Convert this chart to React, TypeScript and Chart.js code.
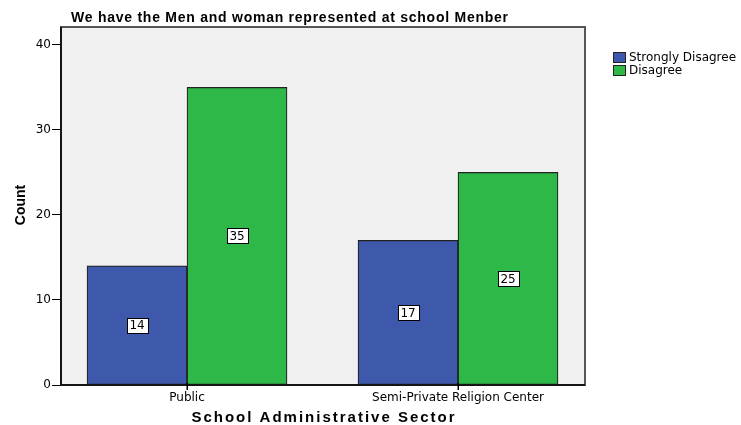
import React, { useEffect, useRef } from "react";
import { Chart, registerables } from "chart.js";

Chart.register(...registerables);

const categories = ["Public", "Semi-Private Religion Center"];
const strongly = [14, 17];
const disagree = [35, 25];
const seriesNames = ["Strongly Disagree", "Disagree"];
const yTicks = [0, 10, 20, 30, 40];
const chartTitle = "We have the Men and woman represented at school Menber";
const xTitle = "School Administrative Sector";
const yTitle = "Count";

const BLUE = "#3e58ac";
const GREEN = "#2eb848";
const SANS = "'DejaVu Sans', Arial, sans-serif";

const framePlugin = {
  id: "frame",
  beforeDatasetsDraw(chart: any) {
    const { ctx, chartArea: a } = chart;
    ctx.save();
    ctx.fillStyle = "#f0f0f0";
    ctx.fillRect(a.left, a.top, a.right - a.left, a.bottom - a.top);
    ctx.restore();
  },
  afterDatasetsDraw(chart: any) {
    const { ctx, chartArea: a } = chart;
    ctx.save();
    ctx.strokeStyle = "#555";
    ctx.lineWidth = 2;
    ctx.strokeRect(a.left, a.top, a.right - a.left, a.bottom - a.top);
    ctx.strokeStyle = "#000";
    ctx.lineWidth = 1.5;
    ctx.beginPath();
    ctx.moveTo(a.left, a.top);
    ctx.lineTo(a.left, a.bottom);
    ctx.lineTo(a.right, a.bottom);
    ctx.stroke();
    // x tick marks at category centres
    const xs = chart.scales.x;
    ctx.lineWidth = 1.5;
    categories.forEach((_, i) => {
      const px = Math.round(xs.getPixelForValue(i)) + 0.25;
      ctx.beginPath();
      ctx.moveTo(px, a.bottom - 2);
      ctx.lineTo(px, a.bottom + 5);
      ctx.stroke();
    });
    // value labels
    ctx.font = "12px " + SANS;
    ctx.textAlign = "center";
    ctx.textBaseline = "middle";
    chart.data.datasets.forEach((ds: any, di: number) => {
      const meta = chart.getDatasetMeta(di);
      meta.data.forEach((bar: any, i: number) => {
        const v = ds.data[i].y;
        const txt = String(v);
        const cx = bar.x;
        const cy = (bar.y + bar.base) / 2;
        const w = Math.round(ctx.measureText(txt).width + 6);
        const h = 15;
        const x0 = Math.round(cx - w / 2) + 0.5;
        const y0 = Math.round(cy - h / 2) + 0.5;
        ctx.fillStyle = "#fff";
        ctx.fillRect(x0, y0, w, h);
        ctx.strokeStyle = "#000";
        ctx.lineWidth = 1;
        ctx.strokeRect(x0, y0, w, h);
        ctx.fillStyle = "#000";
        ctx.fillText(txt, cx, cy + 1);
      });
    });
    ctx.restore();
  },
  afterDraw(chart: any) {
    const { ctx } = chart;
    ctx.save();
    ctx.fillStyle = "#000";
    // title
    ctx.font = "bold 14px Arial, 'Liberation Sans', sans-serif";
    ctx.textAlign = "left";
    ctx.textBaseline = "middle";
    (ctx as any).letterSpacing = "0.75px";
    ctx.fillText(chartTitle, 71, 18);
    // x title
    ctx.font = "bold 15px Arial, 'Liberation Sans', sans-serif";
    ctx.textAlign = "center";
    (ctx as any).letterSpacing = "2px";
    ctx.fillText(xTitle, 324, 418);
    (ctx as any).letterSpacing = "0px";
    // y title
    ctx.save();
    ctx.translate(21, 205);
    ctx.rotate(-Math.PI / 2);
    ctx.font = "bold 14px Arial, 'Liberation Sans', sans-serif";
    ctx.fillText(yTitle, 0, 0);
    ctx.restore();
    // legend
    const colors = [BLUE, GREEN];
    ctx.font = "12px " + SANS;
    ctx.textAlign = "left";
    seriesNames.forEach((n, i) => {
      const y = 52 + i * 13;
      ctx.fillStyle = colors[i];
      ctx.fillRect(613.5, y + 0.5, 12, 10);
      ctx.strokeStyle = "#222";
      ctx.lineWidth = 1;
      ctx.strokeRect(613.5, y + 0.5, 12, 10);
      ctx.fillStyle = "#000";
      ctx.fillText(n, 629, y + 6);
    });
    ctx.restore();
  },
};

export default function App() {
  const ref = useRef<HTMLCanvasElement>(null);
  useEffect(() => {
    document.body.style.margin = "0";
    const chart = new Chart(ref.current!, {
      type: "bar",
      data: {
        datasets: [
          {
            label: seriesNames[0],
            data: strongly.map((v, i) => ({ x: i, y: v })),
            backgroundColor: BLUE,
            borderColor: "#222",
            borderWidth: 1.2,
            borderSkipped: false,
          },
          {
            label: seriesNames[1],
            data: disagree.map((v, i) => ({ x: i, y: v })),
            backgroundColor: GREEN,
            borderColor: "#222",
            borderWidth: 1.2,
            borderSkipped: false,
          },
        ],
      },
      options: {
        animation: false,
        responsive: false,
        maintainAspectRatio: false,
        layout: { padding: { top: 27, right: 156, left: 0, bottom: 0 } },
        plugins: { legend: { display: false }, tooltip: { enabled: false }, title: { display: false } },
        datasets: { bar: { barThickness: 100 } },
        scales: {
          x: {
            type: "linear",
            min: -0.465,
            max: 1.4686,
            offset: false,
            afterBuildTicks(scale: any) {
              scale.ticks = categories.map((_, i) => ({ value: i }));
            },
            grid: { display: false, drawTicks: false },
            border: { display: false },
            ticks: {
              color: "#000",
              font: { family: SANS, size: 12 },
              padding: 6,
              maxRotation: 0,
              autoSkip: false,
              callback: (v: any) => categories[Math.round(Number(v))] ?? "",
            },
            afterFit(scale: any) {
              scale.height = 40;
            },
          },
          y: {
            min: 0,
            max: 42.1,
            afterBuildTicks(scale: any) {
              scale.ticks = yTicks.map((v) => ({ value: v }));
            },
            grid: { drawOnChartArea: false, drawTicks: true, tickLength: 9, color: "#000" },
            border: { display: false },
            ticks: {
              color: "#000",
              font: { family: SANS, size: 12 },
              padding: 1,
            },
            afterFit(scale: any) {
              scale.width = 61;
            },
          },
        },
      },
      plugins: [framePlugin],
    } as any);
    return () => chart.destroy();
  }, []);
  return (
    <div style={{ width: 741, height: 425, position: "relative" }}>
      <canvas ref={ref} width={741} height={425} style={{ width: 741, height: 425, display: "block" }} />
    </div>
  );
}
